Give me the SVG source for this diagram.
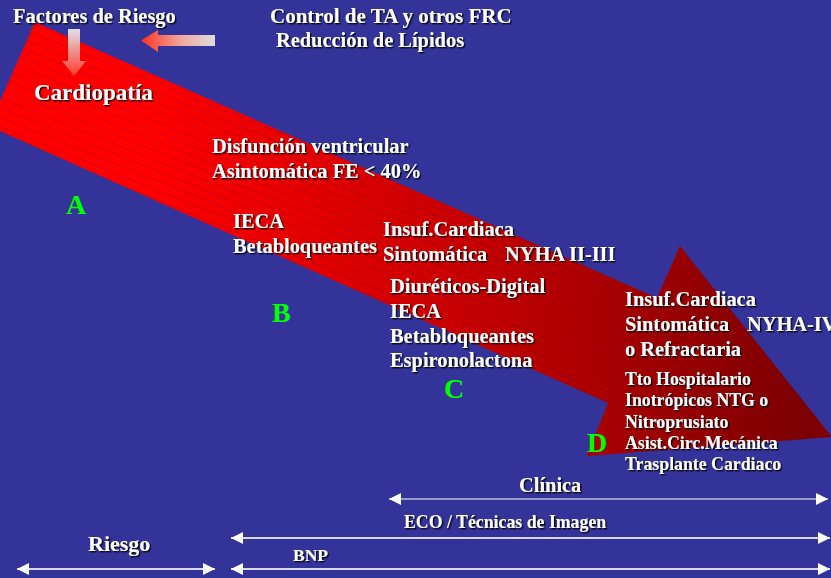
<svg xmlns="http://www.w3.org/2000/svg" width="831" height="578" viewBox="0 0 831 578">
<defs>
<style>
.t{font-family:"Liberation Serif","Times New Roman",serif;font-weight:bold;fill:#ffffff;font-size:20.4px}
.s{font-size:17.8px}
.g{font-family:"Liberation Serif","Times New Roman",serif;font-weight:bold;fill:#00ff00;font-size:28px}
.ln{stroke:#d8d8f0;stroke-width:1.8;fill:none}
.ln1{stroke:#ffffff;stroke-width:1.2;fill:none}
</style>
<filter id="sh" x="-5%" y="-20%" width="110%" height="140%">
<feDropShadow dx="1.4" dy="1.4" stdDeviation="0.3" flood-color="#000000" flood-opacity="0.9"/>
</filter>
<linearGradient id="redg" gradientUnits="userSpaceOnUse" x1="150" y1="0" x2="800" y2="0">
<stop offset="0" stop-color="#ff0000"/>
<stop offset="0.45" stop-color="#cc0000"/>
<stop offset="1" stop-color="#7e0000"/>
</linearGradient>
<pattern id="hatch" patternUnits="userSpaceOnUse" width="9" height="9" patternTransform="rotate(22)">
<line x1="0" y1="0.5" x2="9" y2="0.5" stroke="#600040" stroke-width="0.6" stroke-opacity="0.35"/>
</pattern>
<linearGradient id="downg" x1="0" y1="0" x2="0" y2="1">
<stop offset="0" stop-color="#e0e0e8"/>
<stop offset="1" stop-color="#ff3a2a"/>
</linearGradient>
<linearGradient id="leftg" x1="0" y1="0" x2="1" y2="0">
<stop offset="0" stop-color="#ff3020"/>
<stop offset="0.55" stop-color="#f0a8a0"/>
<stop offset="1" stop-color="#dcdcdc"/>
</linearGradient>
<marker id="ah" markerUnits="userSpaceOnUse" markerWidth="12" markerHeight="12" refX="10" refY="5" orient="auto-start-reverse" viewBox="0 0 10 10">
<path d="M0,0 L10,5 L0,10 Z" fill="#ffffff"/>
</marker>
</defs>
<rect x="0" y="0" width="831" height="578" fill="#333399"/>

<g id="big-arrow">
<polygon points="35,22 657,298 680,246 832,437 587,456 608,403 -11,126" fill="url(#redg)"/>
<polygon points="35,22 657,298 680,246 832,437 587,456 608,403 -11,126" fill="url(#hatch)"/>
</g>

<g id="factor-arrows">
<polygon points="68,29 80,29 80,61 86,61 74,76 62,61 68,61" fill="url(#downg)"/>
<polygon points="141,40.5 158,30 158,35 215,35 215,46 158,46 158,52" fill="url(#leftg)"/>
</g>

<g id="connectors">
<line class="ln1" x1="389" y1="499" x2="828" y2="499" marker-start="url(#ah)" marker-end="url(#ah)"/>
<line class="ln" x1="231" y1="538" x2="830" y2="538" marker-start="url(#ah)" marker-end="url(#ah)"/>
<line class="ln" x1="17" y1="569" x2="215" y2="569" marker-start="url(#ah)" marker-end="url(#ah)"/>
<line class="ln" x1="231" y1="569" x2="830" y2="569" marker-start="url(#ah)" marker-end="url(#ah)"/>
</g>

<g filter="url(#sh)">
<g id="factores">
<text class="t" x="13" y="23">Factores de Riesgo</text>
</g>
<g id="control">
<text class="t" x="270" y="23" style="font-size:21px">Control de TA y otros FRC</text>
<text class="t" x="276" y="47">Reducción de Lípidos</text>
</g>
<g id="cardiopatia">
<text class="t" x="34" y="100" style="font-size:23px">Cardiopatía</text>
</g>
<g id="disfuncion">
<text class="t" x="212" y="153">Disfunción ventricular</text>
<text class="t" x="212" y="178">Asintomática FE &lt; 40%</text>
</g>
<g id="tratamiento-b">
<text class="t" x="233" y="228">IECA</text>
<text class="t" x="233" y="253">Betabloqueantes</text>
</g>
<g id="insuf-c">
<text class="t" x="383" y="236">Insuf.Cardiaca</text>
<text class="t" x="383" y="261">Sintomática<tspan x="505">NYHA II-III</tspan></text>
</g>
<g id="tratamiento-c">
<text class="t" x="390" y="293">Diuréticos-Digital</text>
<text class="t" x="390" y="318">IECA</text>
<text class="t" x="390" y="343">Betabloqueantes</text>
<text class="t" x="390" y="367">Espironolactona</text>
</g>
<g id="insuf-d">
<text class="t" x="625" y="306">Insuf.Cardiaca</text>
<text class="t" x="625" y="331">Sintomática<tspan x="747">NYHA-IV</tspan></text>
<text class="t" x="625" y="356">o Refractaria</text>
</g>
<g id="tratamiento-d">
<text class="t s" x="625" y="385">Tto Hospitalario</text>
<text class="t s" x="625" y="406">Inotrópicos NTG o</text>
<text class="t s" x="625" y="428">Nitroprusiato</text>
<text class="t s" x="625" y="449">Asist.Circ.Mecánica</text>
<text class="t s" x="625" y="470">Trasplante Cardiaco</text>
</g>
<g id="bottom-labels">
<text class="t" x="519" y="492">Clínica</text>
<text class="t" x="404" y="528" style="font-size:17.8px">ECO / Técnicas de Imagen</text>
<text class="t" x="88" y="551" style="font-size:22px">Riesgo</text>
<text class="t" x="293" y="561" style="font-size:17.5px">BNP</text>
</g>
</g>

<g id="stages">
<text class="g" x="66" y="214">A</text>
<text class="g" x="272" y="322">B</text>
<text class="g" x="444" y="398">C</text>
<text class="g" x="587" y="452">D</text>
</g>
</svg>
